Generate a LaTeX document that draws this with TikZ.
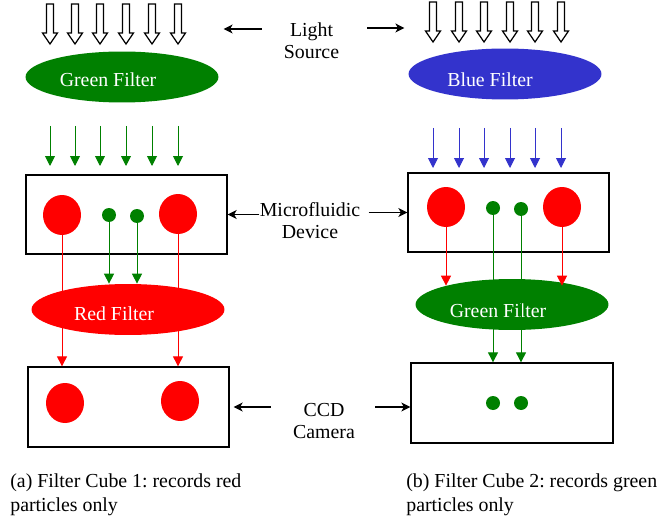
\documentclass[tikz,border=0pt]{standalone}
\usepackage{fontspec}
\setmainfont{Liberation Serif}
\usetikzlibrary{arrows.meta,shapes.geometric}
\definecolor{fgreen}{RGB}{0,128,0}
\definecolor{fblue}{RGB}{51,51,204}
\definecolor{fred}{RGB}{255,0,0}
\frenchspacing
\begin{document}
\begin{tikzpicture}[x=0.02cm, y=-0.02cm,
    every node/.style={font=\fontsize{11.3}{12.6}\selectfont},
    box/.style={draw, line width=0.75pt, minimum width=4.02cm, minimum height=1.58cm, inner sep=0},
    filter/.style={ellipse, minimum width=3.86cm, minimum height=1.02cm, inner sep=0},
    bigdot/.style={ellipse, fill=fred, minimum width=0.76cm, minimum height=0.8cm, inner sep=0},
    smalldot/.style={circle, fill=fgreen, minimum size=0.28cm, inner sep=0},
    ray/.style={line width=0.55pt, -{Triangle[length=0.2cm, width=0.2cm]}},
    lab/.style={line width=0.75pt, -{Stealth[length=0.18cm, width=0.18cm, inset=0.05cm]}},
    hollow/.style={draw, line width=0.7pt, fill=white},
    caption/.style={anchor=west, align=left, inner sep=0, font=\fontsize{11.3}{13.6}\selectfont}]
    \useasboundingbox (0,0) rectangle (658,523);
    % light coming in
    \foreach \x in {50,75,100,126,152,178}
        \draw[hollow] (\x-3.5,4) -- (\x-3.5,33) -- (\x-7.5,33) -- (\x,44) -- (\x+7.5,33) -- (\x+3.5,33) -- (\x+3.5,4) -- cycle;
    \foreach \x in {433,459,484,510,535,561}
        \draw[hollow] (\x-3.5,2) -- (\x-3.5,31) -- (\x-7.5,31) -- (\x,42) -- (\x+7.5,31) -- (\x+3.5,31) -- (\x+3.5,2) -- cycle;
    \foreach \x in {50,75,100,126,152,178}
        \draw[ray, fgreen] (\x,126) -- (\x,166);
    \foreach \x in {433,459,484,510,535,561}
        \draw[ray, fblue] (\x,128) -- (\x,168);
    % excitation filters
    \node[filter, fill=fgreen] (gf1) at (122,77) {};
    \node[white, anchor=base] (gf1t) at (108,87) {Green Filter};
    \node[filter, fill=fblue] (bf2) at (505,74) {};
    \node[white, anchor=base] (bf2t) at (490,87) {Blue Filter};
    % devices
    \node[box] (dev1) at (126.5,214.5) {};
    \node[box] (dev2) at (508.5,212.5) {};
    \node[bigdot] (r1) at (62,215) {};
    \node[bigdot] (r2) at (178,214) {};
    \node[smalldot] (g1) at (109,215) {};
    \node[smalldot] (g2) at (137,216) {};
    \node[bigdot] (r3) at (446,207) {};
    \node[bigdot] (r4) at (562,207) {};
    \node[smalldot] (g3) at (493,208) {};
    \node[smalldot] (g4) at (521,209) {};
    % emission filters
    \node[filter, fill=fred] (rf1) at (128,309.5) {};
    \node[white, anchor=base] (rf1t) at (114,320) {Red Filter};
    \node[filter, fill=fgreen] (gf2) at (512,304.5) {};
    \node[white, anchor=base] (gf2t) at (498,317) {Green Filter};
    % cameras
    \node[box, minimum height=1.6cm] (cam1) at (128.5,407) {};
    \node[box, minimum height=1.6cm, minimum width=4.04cm] (cam2) at (512,403) {};
    \node[bigdot] (r5) at (65,403) {};
    \node[bigdot] (r6) at (180,401) {};
    \node[smalldot] (g5) at (493,403) {};
    \node[smalldot] (g6) at (521,403) {};
    % rays
    \draw[ray, fred] (r1.south) -- (r1 |- cam1.north);
    \draw[ray, fred] (r2.south) -- (r2 |- cam1.north);
    \draw[ray, fgreen] (g1.south) -- (g1 |- rf1.north);
    \draw[ray, fgreen] (g2.south) -- (g2 |- rf1.north);
    \draw[ray, fred, shorten >=-0.14cm] (r3.south) -- (r3 |- gf2.north);
    \draw[ray, fred, shorten >=-0.14cm] (r4.south) -- (r4 |- gf2.north);
    \draw[ray, fgreen] (g3.south) -- (g3 |- cam2.north);
    \draw[ray, fgreen] (g4.south) -- (g4 |- cam2.north);
    % labels
    \node[align=center, inner sep=0] (light) at (311.5,41) {Light\\Source};
    \node[align=center, inner sep=0] (micro) at (310,221) {Microfluidic\\Device};
    \node[align=center, inner sep=0] (ccd) at (324,421) {CCD\\Camera};
    \draw[lab] (light.west) ++(-22,-12) -- ++(-38,0);
    \draw[lab] (light.east) ++(28,-13) -- ++(37,0);
    \draw[lab] (micro.west |- dev1.east) -- (dev1.east);
    \draw[lab, shorten <=0.16cm] (micro.east |- dev2.west) -- (dev2.west);
    \draw[lab, shorten <=0.44cm, shorten >=0.08cm] (ccd.west |- cam1.east) -- (cam1.east);
    \draw[lab, shorten <=0.4cm] (ccd.east |- cam1.east) -- (cam1.east -| cam2.west);
    % captions
    \node[caption] (capa) at (10,495) {(a) Filter Cube 1: records red\\particles only};
    \node[caption] (capb) at (406,495) {(b) Filter Cube 2: records green\\particles only};
\end{tikzpicture}
\end{document}
